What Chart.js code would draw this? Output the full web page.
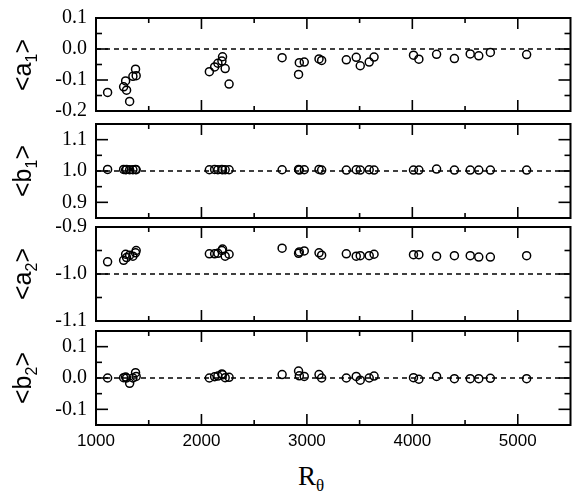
<!DOCTYPE html>
<html>
<head>
<meta charset="utf-8">
<script src="https://cdn.jsdelivr.net/npm/chart.js@4.4.0/dist/chart.umd.min.js"></script>
<style>
    html, body { margin: 0; padding: 0; background: #fff; }
    #wrap { position: relative; width: 576px; height: 495px; overflow: hidden; }
    #wrap canvas { position: absolute; left: 0; }
    .ytitle {
        position: absolute; left: 25px;
        font-family: "Liberation Sans", sans-serif; font-size: 25px; line-height: 1;
        transform: translate(-50%, -50%) rotate(-90deg);
        white-space: nowrap; color: #000;
    }
    .ytitle sub { font-size: 16px; }
    #xtitle {
        position: absolute; left: 311px; top: 463px;
        transform: translateX(-50%);
        font-family: "Liberation Serif", serif; font-size: 27px; line-height: 1;
        white-space: nowrap; color: #000;
    }
    #xtitle sub { font-size: 17px; }
</style>
</head>
<body>
<div id="wrap">
    <canvas id="c1" width="576" height="117" style="top:6px"></canvas>
    <canvas id="c2" width="576" height="118" style="top:112px"></canvas>
    <canvas id="c3" width="576" height="118" style="top:215px"></canvas>
    <canvas id="c4" width="576" height="136" style="top:319px"></canvas>
    <div class="ytitle" style="top:65px">&lt;a<sub>1</sub>&gt;</div>
    <div class="ytitle" style="top:171px">&lt;b<sub>1</sub>&gt;</div>
    <div class="ytitle" style="top:274px">&lt;a<sub>2</sub>&gt;</div>
    <div class="ytitle" style="top:378px">&lt;b<sub>2</sub>&gt;</div>
    <div id="xtitle">R<sub>θ</sub></div>
</div>
<script>
    // Reynolds numbers shared by all four panels
    var rTheta = [1110, 1262, 1281, 1290, 1319, 1350, 1375, 1381,
                  2075, 2125, 2156, 2194, 2200, 2225, 2262,
                  2765, 2921, 2928, 2975, 3115, 3140, 3374, 3468, 3506, 3591, 3637,
                  4011, 4062, 4230, 4399, 4549, 4630, 4740, 5084];

    var a1 = [-0.140, -0.122, -0.103, -0.133, -0.169, -0.088, -0.065, -0.086,
              -0.073, -0.058, -0.046, -0.039, -0.025, -0.063, -0.113,
              -0.028, -0.082, -0.044, -0.042, -0.032, -0.037, -0.035, -0.027, -0.054, -0.042, -0.026,
              -0.020, -0.033, -0.017, -0.031, -0.016, -0.022, -0.011, -0.018];

    var b1 = [1.005, 1.005, 1.004, 1.005, 1.004, 1.004, 1.005, 1.004,
              1.004, 1.005, 1.004, 1.005, 1.004, 1.004, 1.004,
              1.004, 1.005, 1.003, 1.004, 1.005, 1.003, 1.003, 1.004, 1.003, 1.004, 1.003,
              1.003, 1.003, 1.006, 1.003, 1.003, 1.003, 1.003, 1.003];

    var a2 = [-0.974, -0.971, -0.958, -0.965, -0.960, -0.962, -0.955, -0.950,
              -0.957, -0.957, -0.956, -0.950, -0.947, -0.962, -0.958,
              -0.945, -0.956, -0.953, -0.951, -0.955, -0.960, -0.957, -0.962, -0.961, -0.961, -0.958,
              -0.959, -0.959, -0.962, -0.961, -0.961, -0.964, -0.964, -0.961];

    var b2 = [0.000, 0.001, 0.003, 0.000, -0.017, 0.000, 0.017, 0.005,
              0.000, 0.004, 0.006, 0.013, 0.010, 0.001, 0.002,
              0.011, 0.022, 0.007, 0.005, 0.011, 0.000, 0.000, 0.005, -0.007, 0.000, 0.006,
              0.001, -0.004, 0.005, -0.002, -0.002, -0.002, -0.001, -0.002];

    // dashed reference level of each panel
    var refLevels = [0.0, 1.0, -1.0, 0.0];

    var xRange = [1000, 5500];
    var xTicks = [1000, 2000, 3000, 4000, 5000];
    var xMinorTicks = [1500, 2500, 3500, 4500];

    var a1Ticks = [-0.2, -0.1, 0.0, 0.1];
    var a1Minor = [-0.15, -0.05, 0.05];
    var b1Ticks = [0.9, 1.0, 1.1];
    var b1Minor = [0.95, 1.05];
    var a2Ticks = [-1.1, -1.0, -0.9];
    var a2Minor = [-1.05, -0.95];
    var b2Ticks = [-0.1, 0.0, 0.1];
    var b2Minor = [-0.05, 0.05];

    var panels = [
        {id: 'c1', values: a1, min: -0.2, max: 0.1, ticks: a1Ticks, minor: a1Minor, ref: refLevels[0]},
        {id: 'c2', values: b1, min: 0.85, max: 1.15, ticks: b1Ticks, minor: b1Minor, ref: refLevels[1]},
        {id: 'c3', values: a2, min: -1.1, max: -0.9, ticks: a2Ticks, minor: a2Minor, ref: refLevels[2]},
        {id: 'c4', values: b2, min: -0.15, max: 0.15, ticks: b2Ticks, minor: b2Minor, ref: refLevels[3]}
    ];

    // box frame with inward ticks on all four sides
    function drawFrame(chart, major, minor) {
        var ctx = chart.ctx;
        var area = chart.chartArea;
        var xs = chart.scales.x;
        var ys = chart.scales.y;

        ctx.save();
        ctx.setLineDash([]);
        ctx.strokeStyle = '#000';
        ctx.lineWidth = 1.6;

        var seg = function(x1, y1, x2, y2) {
            ctx.beginPath();
            ctx.moveTo(x1, y1);
            ctx.lineTo(x2, y2);
            ctx.stroke();
        };
        xTicks.concat(xMinorTicks).forEach(function(v, k) {
            var len = k < xTicks.length ? 11 : 5;
            var px = xs.getPixelForValue(v);
            seg(px, area.top, px, area.top + len);
            seg(px, area.bottom, px, area.bottom - len);
        });
        major.concat(minor).forEach(function(v, k) {
            var len = k < major.length ? 12 : 6;
            var py = ys.getPixelForValue(v);
            seg(area.left, py, area.left + len, py);
            seg(area.right, py, area.right - len, py);
        });

        ctx.lineWidth = 2;
        ctx.strokeRect(area.left, area.top, area.right - area.left, area.bottom - area.top);
        ctx.restore();
    }

    // keep edge tick labels from shrinking the plot area
    function zeroPad(s) {
        s.paddingTop = 0;
        s.paddingBottom = 0;
        s.paddingLeft = 0;
        s.paddingRight = 0;
    }

    panels.forEach(function(p, i) {
        var isLast = i === panels.length - 1;
        var points = rTheta.map(function(x, k) { return {x: x, y: p.values[k]}; });

        new Chart(document.getElementById(p.id), {
            type: 'scatter',
            data: {
                datasets: [{
                    type: 'line',
                    data: [{x: xRange[0], y: p.ref}, {x: xRange[1], y: p.ref}],
                    borderColor: '#000',
                    borderWidth: 1.3,
                    borderDash: [5, 4],
                    pointRadius: 0,
                    fill: false
                }, {
                    data: points,
                    pointStyle: 'circle',
                    pointRadius: 4,
                    pointBorderWidth: 1.5,
                    pointBorderColor: '#000',
                    pointBackgroundColor: 'rgba(255,255,255,0)'
                }]
            },
            options: {
                responsive: false,
                animation: false,
                layout: {padding: {top: 12, bottom: isLast ? 0 : 12, left: 0, right: 1}},
                plugins: {
                    legend: {display: false},
                    tooltip: {enabled: false}
                },
                scales: {
                    x: {
                        type: 'linear',
                        min: xRange[0],
                        max: xRange[1],
                        display: isLast,
                        afterBuildTicks: function(s) {
                            s.ticks = xTicks.map(function(v) { return {value: v}; });
                        },
                        afterFit: function(s) { s.height = isLast ? 30 : 0; zeroPad(s); },
                        ticks: {
                            color: '#000',
                            padding: 6,
                            maxRotation: 0,
                            autoSkip: false,
                            font: {family: 'Liberation Sans', size: 17},
                            callback: function(v) { return String(v); }
                        },
                        grid: {display: false, drawTicks: false},
                        border: {display: false}
                    },
                    y: {
                        type: 'linear',
                        min: p.min,
                        max: p.max,
                        afterBuildTicks: function(s) {
                            s.ticks = p.ticks.map(function(v) { return {value: v}; });
                        },
                        afterFit: function(s) { s.width = 96; zeroPad(s); },
                        ticks: {
                            color: '#000',
                            padding: 9,
                            autoSkip: false,
                            font: {family: 'Liberation Serif', size: 20},
                            callback: function(v) { return Number(v).toFixed(1); }
                        },
                        grid: {display: false, drawTicks: false},
                        border: {display: false}
                    }
                }
            },
            plugins: [{
                id: 'boxFrame' + i,
                afterDraw: function(c) { drawFrame(c, p.ticks, p.minor); }
            }]
        });
    });
</script>
</body>
</html>
